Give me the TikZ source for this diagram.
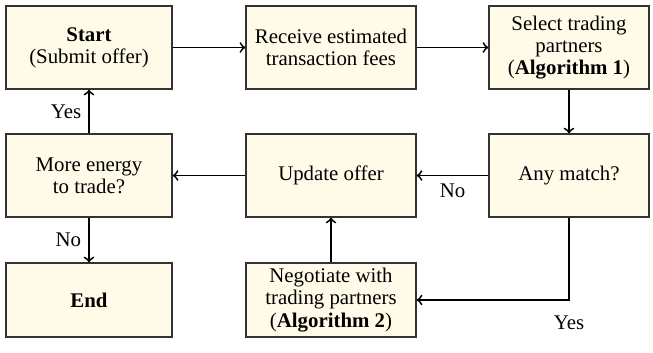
\documentclass[tikz,border=0pt]{standalone}
\usepackage{fontspec}
\setmainfont{Liberation Serif}
\definecolor{boxfill}{RGB}{255,251,232}
\begin{document}
\begin{tikzpicture}[x=0.48pt,y=-0.48pt,font=\fontsize{10}{10.6}\selectfont]

        \useasboundingbox (0,0) rectangle (653,352);

        \begin{scope}[every node/.style={draw=black!80,semithick,fill=boxfill,align=center,minimum height=39.8pt,inner sep=2pt}]
          \node[minimum width=79.7pt] (1) at (89,47.5)   {\textbf{Start}\\(Submit offer)};
          \node[minimum width=81.6pt] (2) at (331,47.5)  {Receive estimated\\transaction fees};
          \node[minimum width=76.8pt] (3) at (569,47.5)  {Select trading\\partners\\(\textbf{Algorithm 1})};
          \node[minimum width=76.8pt] (4) at (569,175.5) {Any match?};
          \node[minimum width=81.6pt] (5) at (331,175.5) {Update offer};
          \node[minimum width=79.7pt] (6) at (89,175.5)  {More energy\\to trade?};
          \node[minimum width=81.6pt,minimum height=35.5pt] (7) at (331,300) {Negotiate with\\trading partners\\(\textbf{Algorithm 2})};
          \node[minimum width=79.7pt,minimum height=35.5pt] (8) at (89,300) {\textbf{End}};
        \end{scope}

        \begin{scope}[every edge/.style={draw,->,line width=0.9pt}]
          \path (1) edge (2);
          \path (2) edge (3);
          \path (3) edge (4);
          \path (4) edge node[below] {No} (5);
          \path (7) edge (5);
          \path (5) edge (6);
          \path (6) edge node[left] {Yes} (1);
          \path (6) edge node[left] {No} (8);
        \end{scope}
        \draw[->,line width=0.9pt] (4.south) |- node[pos=0.5,below=4pt] {Yes} (7.east);

      \end{tikzpicture}
\end{document}
